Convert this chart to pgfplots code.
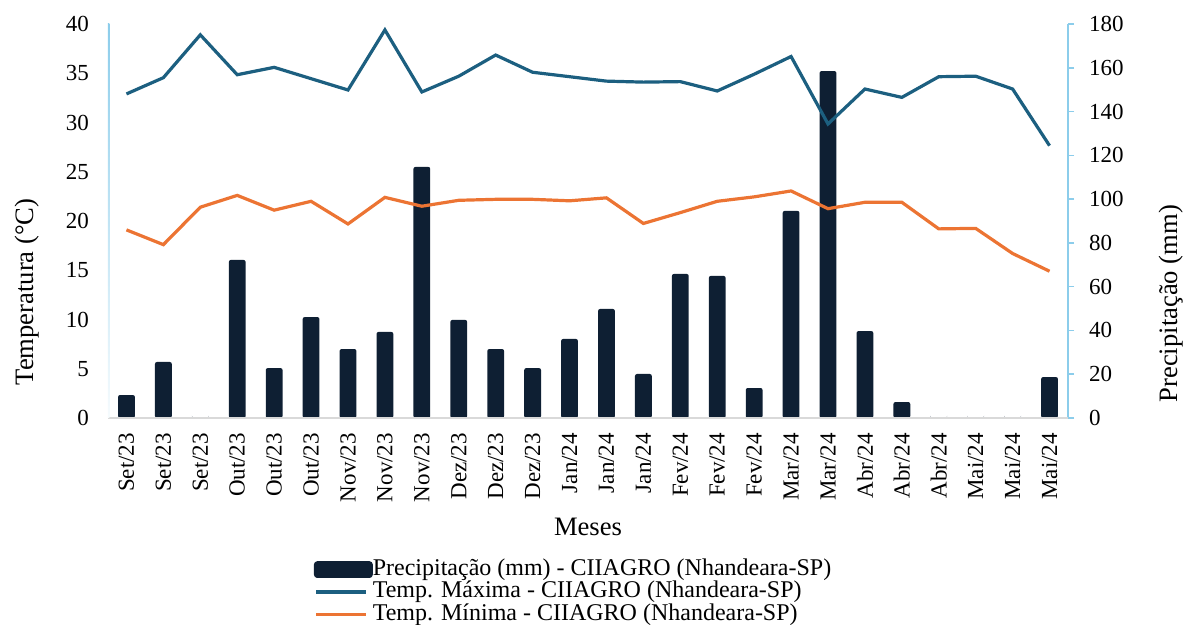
\documentclass[border=0pt]{standalone}
\usepackage{fontspec}
\setmainfont{Liberation Serif}
\usepackage{pgfplots}
\pgfplotsset{compat=1.18}
\definecolor{barc}{HTML}{0E1F33}
\definecolor{tmaxc}{HTML}{1C5F80}
\definecolor{tminc}{HTML}{EC7433}
\definecolor{axblue}{HTML}{8CCDEB}
\definecolor{axgray}{HTML}{D9D9D9}
\begin{document}
\begin{tikzpicture}
\pgfplotsset{
  every axis/.append style={
    scale only axis, width=480pt, height=197pt,
    xmin=-0.5, xmax=25.5,
    /pgf/number format/assume math mode=true,
    tick label style={font=\fontsize{11.5}{12}\selectfont},
    label style={font=\fontsize{13.3}{14}\selectfont},
  }
}
% precipitation bars on right axis
\begin{axis}[
  ymin=0, ymax=180, ytick={0,20,...,180},
  axis x line=none,
  axis y line*=right,
  y axis line style={draw=axblue, line width=0.8pt},
  ytick style={draw=axblue, line width=0.8pt},
  major tick length=3pt,
  tick align=outside,
  yticklabel style={xshift=4pt},
  ylabel={Precipitação (mm)},
  ylabel style={at={(ticklabel cs:0.29)}, anchor=near ticklabel, yshift=-11pt},
]
\addplot[ybar, bar width=8.4pt, fill=barc, draw=none, rounded corners=1pt] coordinates {
(0,10.5) (1,25.6) (2,0) (3,72.2) (4,22.8) (5,46.1) (6,31.5) (7,39.3) (8,114.7)
(9,44.8) (10,31.5) (11,22.8) (12,36.1) (13,49.8) (14,20.1) (15,65.8) (16,64.9)
(17,13.7) (18,94.6) (19,158.5) (20,39.7) (21,7.3) (22,0) (23,0) (24,0) (25,18.7)};
\end{axis}
% temperatures on left axis
\begin{axis}[
  ymin=0, ymax=40, ytick={0,5,...,40},
  axis x line*=bottom,
  axis y line*=left,
  y axis line style={draw=none},
  x axis line style={draw=axgray, line width=0.8pt},
  major tick length=0pt,
  xtick={0,...,25},
  xticklabels={Set/23,Set/23,Set/23,Out/23,Out/23,Out/23,Nov/23,Nov/23,Nov/23,Dez/23,Dez/23,Dez/23,Jan/24,Jan/24,Jan/24,Fev/24,Fev/24,Fev/24,Mar/24,Mar/24,Abr/24,Abr/24,Abr/24,Mai/24,Mai/24,Mai/24},
  xticklabel style={rotate=90, anchor=east, xshift=-4pt},
  yticklabel style={xshift=-6pt},
  xlabel={Meses},
  xlabel style={yshift=-1pt},
  ylabel={Temperatura (°C)},
  ylabel style={at={(ticklabel cs:0.32)}, anchor=near ticklabel, yshift=6.5pt},
  legend cell align=left,
  legend style={at={(0.484,-0.345)}, anchor=north, draw=none, fill=none,
    font=\fontsize{12}{12}\selectfont, row sep=0pt,
    nodes={inner sep=0pt, text height=8.5pt, text depth=2.75pt}},
]
\shade[top color=axblue, bottom color=axblue!8] ([xshift=-0.7pt]rel axis cs:0,0) rectangle ([xshift=0.7pt]rel axis cs:0,1);
\addlegendimage{legend image code/.code={\fill[barc, rounded corners=1.5pt] (0pt,-4pt) rectangle (29pt,4pt);}}
\addlegendentry{Precipitação (mm) - CIIAGRO (Nhandeara-SP)}
\addplot[tmaxc, line width=1.6pt, legend image code/.code={\draw[tmaxc, line width=1.6pt] (1pt,0pt) -- (26pt,0pt);}] coordinates {
(0,32.9) (1,34.55) (2,38.9) (3,34.85) (4,35.6) (5,34.45) (6,33.3) (7,39.4) (8,33.1)
(9,34.7) (10,36.85) (11,35.1) (12,34.65) (13,34.2) (14,34.1) (15,34.15) (16,33.2)
(17,34.9) (18,36.7) (19,29.85) (20,33.4) (21,32.55) (22,34.65) (23,34.7) (24,33.4) (25,27.65)};
\addlegendentry{Temp. Máxima - CIIAGRO (Nhandeara-SP)}
\addplot[tminc, line width=1.6pt, legend image code/.code={\draw[tminc, line width=1.6pt] (1pt,0pt) -- (26pt,0pt);}] coordinates {
(0,19.1) (1,17.6) (2,21.4) (3,22.6) (4,21.1) (5,22.0) (6,19.7) (7,22.4) (8,21.5)
(9,22.1) (10,22.2) (11,22.2) (12,22.05) (13,22.35) (14,19.75) (15,20.85) (16,22.0)
(17,22.45) (18,23.05) (19,21.25) (20,21.9) (21,21.9) (22,19.2) (23,19.25) (24,16.7) (25,14.9)};
\addlegendentry{Temp. Mínima - CIIAGRO (Nhandeara-SP)}
\end{axis}
\pgfresetboundingbox
\useasboundingbox (-54pt,-103.5pt) rectangle (540pt,209pt);
\end{tikzpicture}
\end{document}
